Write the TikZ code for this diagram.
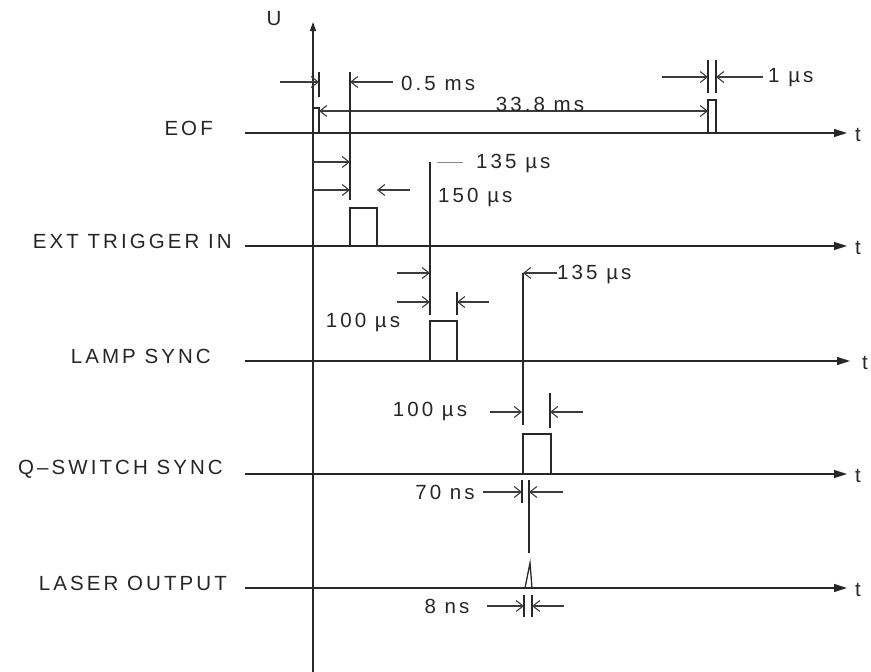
\documentclass[tikz,border=0pt]{standalone}
\usepackage{fontspec}
\setmainfont{Liberation Sans}[LetterSpace=15]
\usepackage{tikz}
\usetikzlibrary{arrows.meta,positioning}
\definecolor{cline}{RGB}{40,40,40}
\definecolor{cdim}{RGB}{60,60,60}
\tikzset{
  sig/.style={cline, line width=1.3pt},
  tax/.style={cline, line width=1.3pt, -{Triangle[length=13pt,width=8pt]}},
  dimarr/.style={cdim, line width=1.1pt, -{Straight Barb[length=7pt,width=11pt]}},
  ext/.style={cline, line width=1.1pt},
  lbl/.style={font=\fontsize{20.5}{24}\selectfont, inner sep=0pt, text=black!85}
}

\begin{document}
\begin{tikzpicture}[x=1pt,y=-1pt]
  \useasboundingbox (0,0) rectangle (871,672);
  % U axis
  \draw[sig,-{Triangle[length=9pt,width=6pt]}] (313,672) -- (313,22);
  \node[lbl] (U) at (274,19) {U};
  % time axes
  \foreach \y/\txt/\lx/\ex/\tx [count=\i] in {133/EOF/213/847/858,
      246/EXT TRIGGER IN/232/847/858, 361/LAMP SYNC/211/850/865,
      474/Q–SWITCH SYNC/223/847/858, 588/LASER OUTPUT/227/847/858}{
    \node[lbl, anchor=east] (sig\i) at (\lx,\y-5) {\txt};
    \coordinate (a\i) at (245,\y);
    \coordinate (b\i) at (\ex,\y);
    \draw[tax] (a\i) -- (b\i);
    \node[lbl] (t\i) at (\tx,\y+2) {t};
  }
  % EOF
  \draw[sig] (313,108) -- (319,108) -- (319,133);
  \draw[ext] (319,72) -- (319,97);
  \draw[dimarr] (280,82) -- (319,82);
  \draw[dimarr] (393,82) -- (350,82);
  \node[lbl, anchor=west] (d05) at (401,83) {0.5 ms};
  \draw[dimarr, {Straight Barb[length=7pt,width=11pt]}-{Straight Barb[length=7pt,width=11pt]}] (319,111) -- (708,111);
  \node[lbl] (d338) at (540,104) {33.8 ms};
  \draw[sig] (708,133) rectangle (716,100);
  \draw[ext] (708,60) -- (708,93);
  \draw[ext] (716,60) -- (716,93);
  \draw[dimarr] (662,77) -- (708,77);
  \draw[dimarr] (763,77) -- (716,77);
  \node[lbl, anchor=west] (d1u) at (768,78) {1 µs};
  % EXT TRIGGER IN
  \draw[sig] (350,72) -- (350,200);
  \draw[dimarr] (313,162) -- (350,162);
  \draw[dimarr] (313,190) -- (350,190);
  \draw[dimarr] (410,190) -- (377,190);
  \draw[sig] (350,246) -- (350,208) -- (377,208) -- (377,246);
  \draw[sig] (430,162) -- (430,315);
  \draw[cdim!60, line width=0.8pt] (463,162) -- (437,162);
  \node[lbl, anchor=west] (d135a) at (476,163) {135 µs};
  \node[lbl, anchor=west] (d150) at (438,197) {150 µs};
  % LAMP SYNC
  \draw[dimarr] (397,273) -- (430,273);
  \draw[dimarr] (397,302) -- (430,302);
  \draw[ext] (457,292) -- (457,315);
  \draw[dimarr] (489,302) -- (457,302);
  \node[lbl] (d100a) at (363,322) {100 µs};
  \draw[sig] (430,361) -- (430,321) -- (457,321) -- (457,361);
  \draw[sig] (523,273) -- (523,425);
  \draw[dimarr] (557,273) -- (523,273);
  \node[lbl, anchor=west] (d135b) at (557,274) {135 µs};
  % Q-SWITCH SYNC
  \draw[dimarr] (490,412) -- (522,412);
  \draw[ext] (550,393) -- (550,428);
  \draw[dimarr] (583,412) -- (550,412);
  \node[lbl] (d100b) at (430,411) {100 µs};
  \draw[sig] (523,474) -- (523,434) -- (551,434) -- (551,474);
  \draw[ext] (522,480) -- (522,503);
  \draw[sig] (529,480) -- (529,553);
  \draw[dimarr] (483,492) -- (522,492);
  \draw[dimarr] (563,492) -- (529,492);
  \node[lbl] (d70) at (445,492) {70 ns};
  % LASER OUTPUT
  \draw[sig] (525,588) -- (530,563) -- (532,588);
  \draw[ext] (524,595) -- (524,617);
  \draw[ext] (532,595) -- (532,617);
  \draw[dimarr] (487,606) -- (524,606);
  \draw[dimarr] (564,606) -- (532,606);
  \node[lbl] (d8) at (447,606) {8 ns};
\end{tikzpicture}
\end{document}
